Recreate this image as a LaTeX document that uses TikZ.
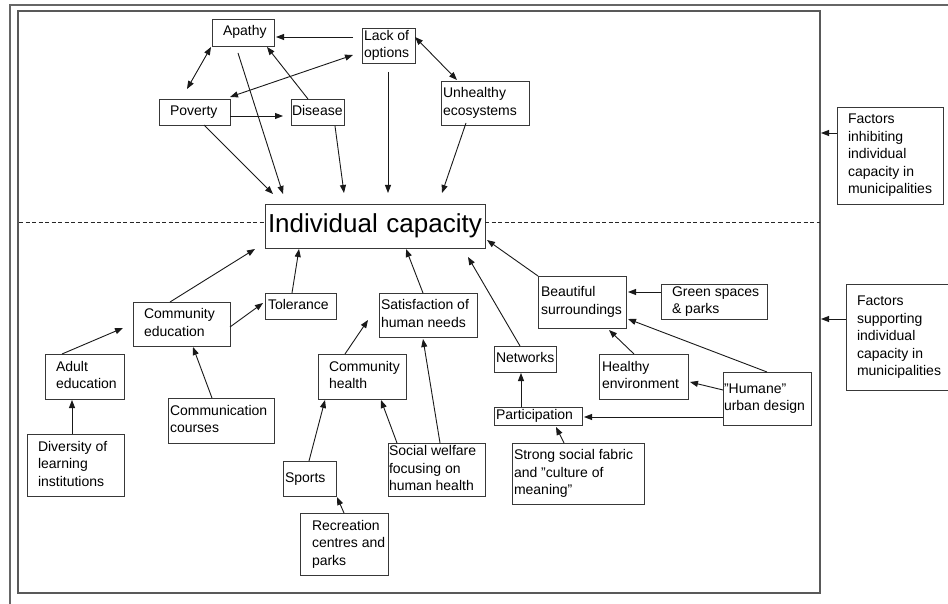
\documentclass[tikz,border=0pt]{standalone}
\usepackage{fontspec}
\setmainfont{Liberation Sans}
\usetikzlibrary{arrows.meta}

% box node: {name}{x1}{y1}{x2}{y2}{left inset}{text lines}
\newcommand\fbx[7]{%
  \node[bx, minimum width={#4-#2}, minimum height={#5-#3}] (#1) at (#2,#3)
    {\makebox[\dimexpr#4pt-#2pt-2pt\relax][l]{%
       \begin{tabular}{@{\hspace{\dimexpr#6pt-1pt\relax}}l@{}}#7\end{tabular}}};}

\begin{document}
\begin{tikzpicture}[x=1pt,y=-1pt,
  bx/.style={draw=black!78, line width=0.9pt, anchor=north west,
             inner xsep=1pt, inner ysep=0pt, outer sep=0pt,
             font=\fontsize{14}{17.5}\selectfont},
  arr/.style={draw=black!90, line width=0.9pt, -{Triangle[length=8pt,width=6pt]}},
  darr/.style={draw=black!90, line width=0.9pt,
               {Triangle[length=8pt,width=6pt]}-{Triangle[length=8pt,width=6pt]}},
  divider/.style={draw=black!85, line width=0.8pt, dash pattern=on 4pt off 2.5pt}]

\useasboundingbox (0,0) rectangle (948,604);
\clip (0,0) rectangle (948,604);
\fill[white] (0,0) rectangle (948,604);

% outer page edge and inner frame
\draw[black!60, line width=1.4pt] (10,610) -- (10,5) -- (960,5);
\node[draw=black!65, line width=1.3pt, anchor=north west, minimum width=802,
      minimum height=582, inner sep=0pt, outer sep=0pt] (frame) at (18,11) {};

% central node
\node[bx, align=left, minimum width=220, minimum height=44, inner xsep=3pt,
      text width=214, font=\fontsize{26}{30}\selectfont] (ic) at (265,204) {Individual capacity};

% inhibiting factors
\fbx{apathy}{212}{19}{274}{46}{11}{Apathy}
\fbx{lack}{362}{28}{415}{63}{2}{Lack of\\options}
\fbx{pov}{159}{99}{230}{125}{11}{Poverty}
\fbx{dis}{291}{99}{344}{125}{1}{Disease}
\fbx{unh}{441}{81}{529}{125}{2}{Unhealthy\\ecosystems}
\fbx{inh}{837}{107}{943}{204}{11}{Factors\\inhibiting\\individual\\capacity in\\municipalities}

% supporting factors
\fbx{ce}{133}{302}{230}{346}{11}{Community\\education}
\fbx{tol}{265}{293}{336}{319}{3}{Tolerance}
\fbx{sat}{379}{293}{477}{337}{2}{Satisfaction of\\human needs}
\fbx{adult}{45}{354}{124}{399}{11}{Adult\\education}
\fbx{ch}{318}{354}{406}{399}{11}{Community\\health}
\fbx{comm}{168}{398}{274}{443}{2}{Communication\\courses}
\fbx{div}{27}{434}{124}{496}{11}{Diversity of\\learning\\institutions}
\fbx{sports}{283}{461}{336}{496}{2}{Sports}
\fbx{sw}{388}{443}{485}{496}{1}{Social welfare\\focusing on\\human health}
\fbx{rec}{300}{513}{388}{575}{12}{Recreation\\centres and\\parks}
\fbx{beau}{538}{276}{626}{328}{3}{Beautiful\\surroundings}
\fbx{green}{661}{284}{767}{319}{11}{Green spaces\\\& parks}
\fbx{net}{494}{346}{556}{372}{2}{Networks}
\fbx{healthy}{599}{354}{688}{399}{3}{Healthy\\environment}
\fbx{humane}{723}{372}{811}{425}{1}{"Humane"\\urban design}
\fbx{part}{494}{407}{582}{425}{2}{Participation}
\fbx{strong}{512}{443}{644}{504}{2}{Strong social fabric\\and "culture of\\meaning"}
\fbx{sup}{846}{284}{952}{390}{11}{Factors\\supporting\\individual\\capacity in\\municipalities}

% dashed divider between the two halves
\draw[divider] ([shift={(1,211)}]frame.north west) -- ([shift={(0,18)}]ic.north west);
\draw[divider] ([shift={(0,18)}]ic.north east) -- ([shift={(0,211)}]frame.north east);

% connectors, upper half
\draw[arr]  ([shift={(-9,9)}]lack.north west) -- ([shift={(64,18)}]apathy.north west);
\draw[darr] ([shift={(-1,28)}]apathy.north west) -- ([shift={(28,-10)}]pov.north west);
\draw[darr] ([shift={(-9,27)}]lack.north west) -- ([shift={(71,-2)}]pov.north west);
\draw[darr] ([shift={(53,9)}]lack.north west) -- ([shift={(16,-1)}]unh.north west);
\draw[arr]  ([shift={(17,0)}]dis.north west) -- ([shift={(55,28)}]apathy.north west);
\draw[arr]  ([shift={(71,17)}]pov.north west) -- ([shift={(-8,17)}]dis.north west);
\draw[arr]  ([shift={(45,26)}]pov.north west) -- ([shift={(8,-10)}]ic.north west);
\draw[arr]  ([shift={(26,34)}]apathy.north west) -- ([shift={(18,-10)}]ic.north west);
\draw[arr]  ([shift={(44,27)}]dis.north west) -- ([shift={(79,-11)}]ic.north west);
\draw[arr]  ([shift={(26,44)}]lack.north west) -- ([shift={(123,-11)}]ic.north west);
\draw[arr]  ([shift={(25,42)}]unh.north west) -- ([shift={(177,-11)}]ic.north west);

% side labels
\draw[arr] ([shift={(0,26)}]inh.north west) -- ([shift={(1,122)}]frame.north east);
\draw[arr] ([shift={(0,35)}]sup.north west) -- ([shift={(1,308)}]frame.north east);

% connectors, lower half
\draw[arr] ([shift={(37,0)}]ce.north west) -- ([shift={(-10,45)}]ic.north west);
\draw[arr] ([shift={(27,0)}]tol.north west) -- ([shift={(34,45)}]ic.north west);
\draw[arr] ([shift={(44,0)}]sat.north west) -- ([shift={(141,45)}]ic.north west);
\draw[arr] ([shift={(26,0)}]net.north west) -- ([shift={(203,53)}]ic.north west);
\draw[arr] (beau.north west) -- ([shift={(222,36)}]ic.north west);
\draw[arr] ([shift={(0,8)}]green.north west) -- ([shift={(90,16)}]beau.north west);
\draw[arr] ([shift={(44,0)}]humane.north west) -- ([shift={(90,43)}]beau.north west);
\draw[arr] ([shift={(35,0)}]healthy.north west) -- ([shift={(71,54)}]beau.north west);
\draw[arr] ([shift={(0,18)}]humane.north west) -- ([shift={(91,28)}]healthy.north west);
\draw[arr] ([shift={(0,45)}]humane.north west) -- ([shift={(90,10)}]part.north west);
\draw[arr] ([shift={(27,0)}]part.north west) -- ([shift={(27,27)}]net.north west);
\draw[arr] ([shift={(52,0)}]strong.north west) -- ([shift={(62,20)}]part.north west);
\draw[arr] ([shift={(52,0)}]sw.north west) -- ([shift={(44,46)}]sat.north west);
\draw[arr] ([shift={(9,0)}]sw.north west) -- ([shift={(63,46)}]ch.north west);
\draw[arr] ([shift={(26,0)}]sports.north west) -- ([shift={(7,46)}]ch.north west);
\draw[arr] ([shift={(44,0)}]rec.north west) -- ([shift={(54,36)}]sports.north west);
\draw[arr] ([shift={(27,0)}]ch.north west) -- ([shift={(-11,27)}]sat.north west);
\draw[arr] ([shift={(44,0)}]comm.north west) -- ([shift={(60,45)}]ce.north west);
\draw[arr] ([shift={(97,25)}]ce.north west) -- ([shift={(-2,10)}]tol.north west);
\draw[arr] ([shift={(17,0)}]adult.north west) -- ([shift={(-10,26)}]ce.north west);
\draw[arr] ([shift={(45,0)}]div.north west) -- ([shift={(27,46)}]adult.north west);
\end{tikzpicture}
\end{document}
